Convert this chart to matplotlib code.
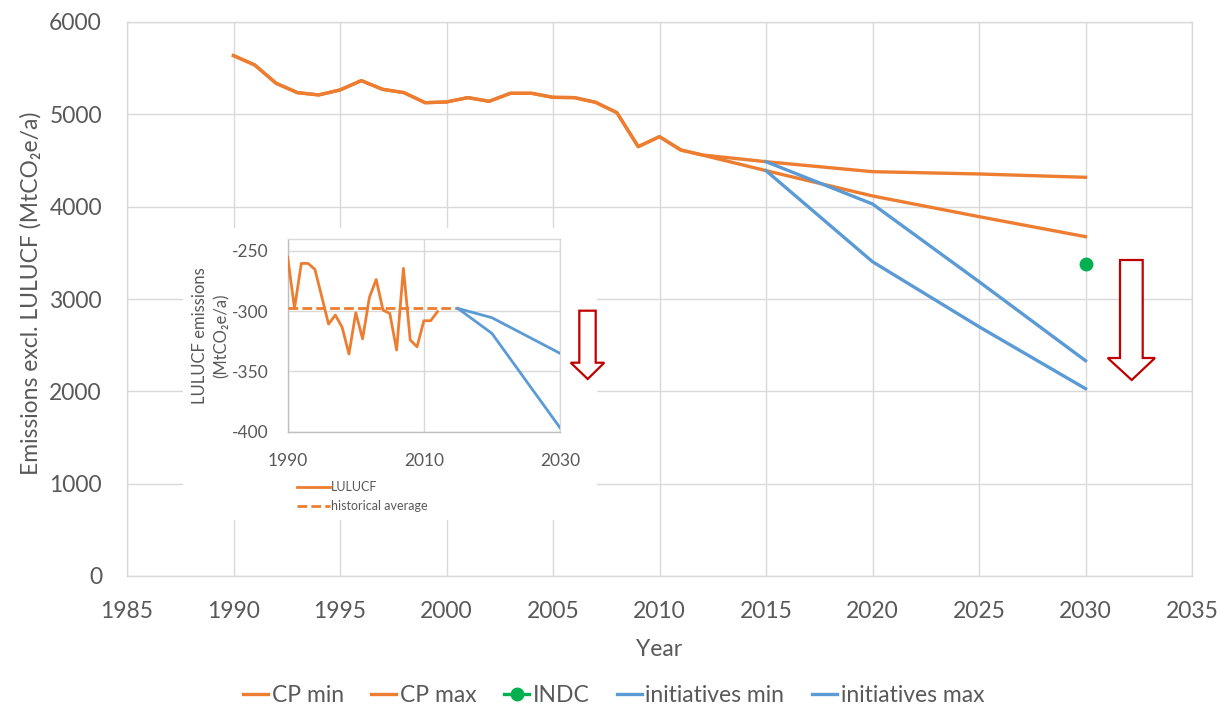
import matplotlib
matplotlib.use("Agg")
import matplotlib.pyplot as plt
from matplotlib.patches import Polygon, Rectangle
import numpy as np

plt.rcParams['font.family'] = ['Lato', 'DejaVu Sans']
plt.rcParams['axes.unicode_minus'] = False

# ---------------- data ----------------
hist_years = list(range(1990, 2013))
hist_emis = [5636, 5534, 5336, 5235, 5210, 5264, 5365, 5271, 5235, 5126, 5134,
             5181, 5141, 5228, 5228, 5184, 5181, 5130, 5018, 4650, 4758, 4614, 4560]

proj_years = [2015, 2020, 2025, 2030]
cp_min_proj = [4390, 4116, 3892, 3675]
cp_max_proj = [4487, 4379, 4354, 4318]

indc_years = [2030]
indc_vals = [3380]

init_years = [2015, 2020, 2025, 2030]
init_min = [4390, 3404, 2700, 2029]
init_max = [4487, 4029, 3188, 2332]

lu_years = list(range(1990, 2013))
lu_vals = [-255.5, -297.8, -260.5, -260.5, -265.5, -288, -310.8, -303.3, -313.5,
           -335.6, -301.4, -323, -288.7, -273.8, -299.2, -302, -332.3, -264.6,
           -324, -329.6, -308, -308, -300.5]
lu_avg_years = [1990, 2015]
lu_avg_vals = [-297.8, -297.8]
lu_init_years = [2015, 2020, 2030]
lu_init_max = [-297.8, -305.5, -335]
lu_init_min = [-297.8, -318.5, -396.7]

main_xticks = list(range(1985, 2036, 5))
main_yticks = list(range(0, 6001, 1000))
inset_xticks = [1990, 2010, 2030]
inset_yticks = [-400, -350, -300, -250]

# ---------------- style ----------------
ORANGE = '#ED7D31'
BLUE = '#5B9BD5'
GREEN = '#00B050'
RED = '#C00000'
GRID = '#D9D9D9'
TXT = '#595959'

W, H = 1227, 708
fig = plt.figure(figsize=(W / 100, H / 100), dpi=100)


def fx(x):
    return x / W


def fy(y):
    return 1 - y / H


ax = fig.add_axes([fx(127), fy(576), fx(1192) - fx(127), fy(22) - fy(576)])
cp_years = hist_years + proj_years
ax.plot(cp_years, hist_emis + cp_min_proj, color=ORANGE, lw=2.4, label='CP min',
        solid_joinstyle='round', zorder=3)
ax.plot(cp_years, hist_emis + cp_max_proj, color=ORANGE, lw=2.4, label='CP max',
        solid_joinstyle='round', zorder=3)
ax.plot(indc_years, indc_vals, color=GREEN, lw=2.4, marker='o', ms=9,
        label='INDC', zorder=4)
ax.plot(init_years, init_min, color=BLUE, lw=2.4, label='initiatives min', zorder=3)
ax.plot(init_years, init_max, color=BLUE, lw=2.4, label='initiatives max', zorder=3)

ax.set_xlim(1985, 2035)
ax.set_ylim(0, 6000)
ax.set_xticks(main_xticks)
ax.set_yticks(main_yticks)
ax.grid(True, color=GRID, lw=1.0)
ax.set_axisbelow(True)
for s in ax.spines.values():
    s.set_color(GRID)
    s.set_linewidth(1.0)
ax.tick_params(length=0, labelsize=16.5, labelcolor=TXT, pad=18)
ax.set_xlabel('Year', fontsize=16.5, color=TXT)
ax.xaxis.set_label_coords(0.5, -0.114)
ax.set_ylabel('Emissions excl. LULUCF (MtCO₂e/a)', fontsize=16.5, color=TXT)
ax.yaxis.set_label_coords(-0.080, 0.51)

leg = ax.legend(loc='center', bbox_to_anchor=(0.5, fy(696)),
                bbox_transform=fig.transFigure, ncol=5, frameon=False,
                fontsize=16.5, handlelength=1.1, handletextpad=0.15,
                columnspacing=1.2, labelcolor=TXT)

# white backdrop for inset
fig.add_artist(Rectangle((fx(183), fy(520)), fx(597) - fx(183), fy(228) - fy(520),
                         transform=fig.transFigure, facecolor='white',
                         edgecolor='none', zorder=1))

# ---------------- inset ----------------
axi = fig.add_axes([fx(287.7), fy(431.7), fx(560) - fx(287.7), fy(239.3) - fy(431.7)],
                   zorder=2)
axi.plot(lu_years, lu_vals, color=ORANGE, lw=2.0, label='LULUCF', zorder=3)
axi.plot(lu_avg_years, lu_avg_vals, color=ORANGE, lw=2.0, ls=(0, (3.5, 1.5)),
         label='historical average', zorder=3)
axi.plot(lu_init_years, lu_init_max, color=BLUE, lw=2.0, zorder=3)
axi.plot(lu_init_years, lu_init_min, color=BLUE, lw=2.0, zorder=3)
axi.set_xlim(1990, 2030)
axi.set_ylim(-400, -240.5)
axi.set_xticks(inset_xticks)
axi.set_yticks(inset_yticks)
axi.grid(True, color=GRID, lw=1.0)
axi.set_axisbelow(True)
for s in axi.spines.values():
    s.set_color(GRID)
    s.set_linewidth(1.0)
axi.spines['left'].set_color('#BFBFBF')
axi.spines['bottom'].set_color('#BFBFBF')
axi.tick_params(length=0, labelsize=12.5, labelcolor=TXT)
axi.tick_params(axis='y', pad=14)
axi.tick_params(axis='x', pad=15)
fig.text(fx(211), fy(336), 'LULUCF emissions\n(MtCO₂e/a)', rotation=90,
         ha='center', va='center', fontsize=12, color=TXT, linespacing=1.45)
axi.legend(loc='upper left', bbox_to_anchor=(fx(297), fy(481)),
           bbox_transform=fig.transFigure, frameon=False, fontsize=9,
           handlelength=2.6, handletextpad=0.15, borderpad=0, borderaxespad=0,
           labelspacing=0.6, labelcolor=TXT)


# ---------------- arrows ----------------
def down_arrow(x0, x1, top, hbase, hx0, hx1, tipx, tipy):
    pts = [(x0, top), (x1, top), (x1, hbase), (hx1, hbase), (tipx, tipy),
           (hx0, hbase), (x0, hbase)]
    pts = [(fx(a), fy(b)) for a, b in pts]
    fig.add_artist(Polygon(pts, closed=True, transform=fig.transFigure,
                           facecolor='white', edgecolor=RED, lw=1.6, zorder=5))


down_arrow(1120, 1142.7, 260, 358, 1107.7, 1155, 1131.7, 380)
down_arrow(579.3, 595.7, 310.7, 362.7, 570.7, 604.3, 587.7, 379)

fig.savefig('out.png', dpi=100, facecolor='white')
